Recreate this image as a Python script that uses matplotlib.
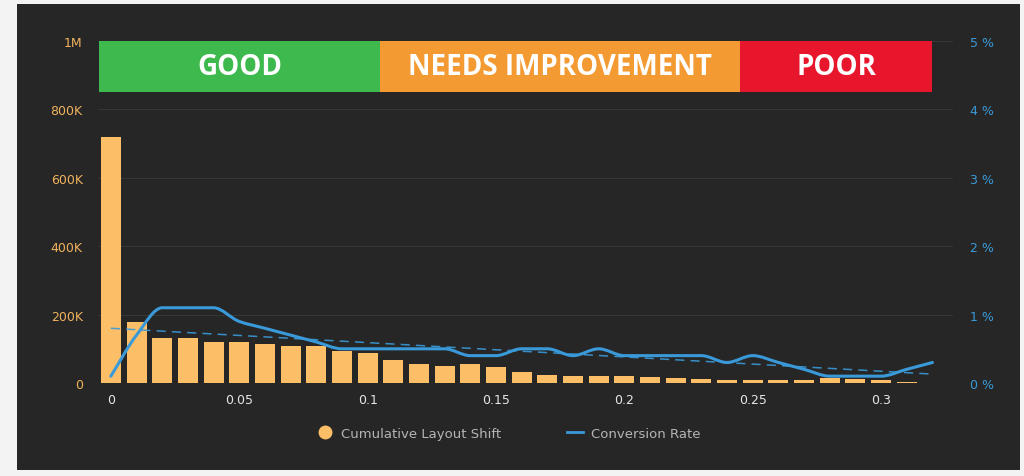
import numpy as np
import matplotlib.pyplot as plt
from matplotlib import font_manager
from matplotlib.path import Path
from matplotlib.patches import PathPatch, Rectangle
from matplotlib.lines import Line2D

# CLS buckets, sessions per bucket, conversion rate (%)
cls = [round(i * 0.01, 2) for i in range(33)]
sessions = [719000, 177000, 132000, 132000, 120000, 120000, 113000, 108000,
            108000, 93000, 87000, 68000, 56000, 50000, 56000, 47000, 31000,
            24000, 21000, 19500, 19500, 16500, 13600, 10700, 7800, 7800, 7800,
            7800, 13600, 12700, 8800, 3900, 0]
conversion = [0.1, 0.7, 1.1, 1.1, 1.1, 0.9, 0.8, 0.7, 0.6, 0.5, 0.5, 0.5, 0.5,
              0.5, 0.4, 0.4, 0.5, 0.5, 0.4, 0.5, 0.4, 0.4, 0.4, 0.4, 0.3, 0.4,
              0.3, 0.2, 0.1, 0.1, 0.1, 0.2, 0.3]
trend_x = [0.0, 0.32]
trend_y = [0.8, 0.13]

bands = [('GOOD', -0.0045, 0.105, '#3db94e'),
         ('NEEDS IMPROVEMENT', 0.105, 0.245, '#f39a33'),
         ('POOR', 0.245, 0.32, '#e8162d')]

left_ticks = [0, 200000, 400000, 600000, 800000, 1000000]
left_labels = ['0', '200K', '400K', '600K', '800K', '1M']
right_ticks = [0, 1, 2, 3, 4, 5]
right_labels = ['0 %', '1 %', '2 %', '3 %', '4 %', '5 %']
x_ticks = [0, 0.05, 0.1, 0.15, 0.2, 0.25, 0.3]
x_labels = ['0', '0.05', '0.1', '0.15', '0.2', '0.25', '0.3']

BG = '#262626'
ORANGE = '#fcbf68'
BLUE = '#3a9ad9'
FONT = 'DejaVu Sans'


def band_font(size):
    # pick a normal-width Open Sans file, as heavy as semibold/bold
    best = None
    for f in font_manager.fontManager.ttflist:
        if f.name != 'Open Sans' or f.style != 'normal':
            continue
        if f.stretch not in ('normal', 500, 'medium'):
            continue
        w = f.weight if isinstance(f.weight, int) else 400
        score = abs(w - 650)
        if best is None or score < best[0]:
            best = (score, f)
    if best is None:
        return font_manager.FontProperties(family='Open Sans', weight='bold',
                                           size=size)
    fp = font_manager.FontProperties(fname=best[1].fname, size=size)
    if best[1].weight in (400, 'normal'):
        fp.set_weight('bold')
    return fp


def smooth_path(x, y):
    # monotone cubic bezier through the points
    x = np.asarray(x, float)
    y = np.asarray(y, float)
    dx = np.diff(x)
    s = np.diff(y) / dx
    m = np.zeros_like(y)
    m[0], m[-1] = s[0], s[-1]
    for i in range(1, len(y) - 1):
        if s[i - 1] * s[i] > 0:
            m[i] = 2 / (1 / s[i - 1] + 1 / s[i])
    verts = [(x[0], y[0])]
    codes = [Path.MOVETO]
    for i in range(len(dx)):
        h = dx[i] / 3
        verts += [(x[i] + h, y[i] + m[i] * h),
                  (x[i + 1] - h, y[i + 1] - m[i + 1] * h),
                  (x[i + 1], y[i + 1])]
        codes += [Path.CURVE4] * 3
    return Path(verts, codes)


fig = plt.figure(figsize=(10.24, 4.77), dpi=100, facecolor='#f3f3f3')
fig.patches.append(Rectangle((17 / 1024, 6 / 477), 1003 / 1024, 466 / 477,
                             transform=fig.transFigure, facecolor=BG,
                             edgecolor='none', zorder=-10))

ax = fig.add_axes([98 / 1024, 93 / 477, 855 / 1024, 342 / 477])
ax.set_facecolor('none')
ax.bar(cls, sessions, width=0.0078, color=ORANGE, zorder=2)
ax.set_xlim(-0.005, 0.328)
ax.set_ylim(0, 1000000)
ax.set_yticks(left_ticks, left_labels)
ax.set_xticks(x_ticks, x_labels)
ax.grid(axis='y', color='#363636', linewidth=0.8, zorder=0)
for sp in ax.spines.values():
    sp.set_visible(False)
ax.tick_params(axis='y', length=0, pad=11, labelsize=9, labelcolor='#f0b35e')
ax.tick_params(axis='x', length=0, pad=7, labelsize=9, labelcolor='#e6e6e6')
for lab in ax.get_xticklabels() + ax.get_yticklabels():
    lab.set_family(FONT)

fp = band_font(20)
for name, x0, x1, col in bands:
    ax.add_patch(Rectangle((x0, 850000), x1 - x0, 150000, facecolor=col,
                           edgecolor='none', zorder=3))
    ax.text((x0 + x1) / 2, 925000, name, ha='center', va='center',
            color='white', fontproperties=fp, zorder=4)

ax2 = ax.twinx()
ax2.set_ylim(0, 5)
ax2.set_yticks(right_ticks, right_labels)
for sp in ax2.spines.values():
    sp.set_visible(False)
ax2.tick_params(axis='y', length=0, pad=12, labelsize=9, labelcolor=BLUE)
for lab in ax2.get_yticklabels():
    lab.set_family(FONT)
ax2.plot(trend_x, trend_y, color=BLUE, linewidth=1.1, dashes=(6, 4), alpha=0.9)
ax2.add_patch(PathPatch(smooth_path(cls, conversion), facecolor='none',
                        edgecolor=BLUE, linewidth=2.2, capstyle='round'))

handles = [Line2D([], [], linestyle='none', marker='o', markersize=9,
                  markerfacecolor=ORANGE, markeredgecolor=ORANGE),
           Line2D([], [], color=BLUE, linewidth=2)]
fig.legend(handles, ['Cumulative Layout Shift', 'Conversion Rate'],
           loc='center', bbox_to_anchor=(0.497, 0.09), ncol=2, frameon=False,
           handlelength=1.2, columnspacing=5, handletextpad=0.6,
           prop={'family': FONT, 'size': 9.5}, labelcolor='#b5b5b5')

fig.savefig('out.png', dpi=100, facecolor=fig.get_facecolor())
